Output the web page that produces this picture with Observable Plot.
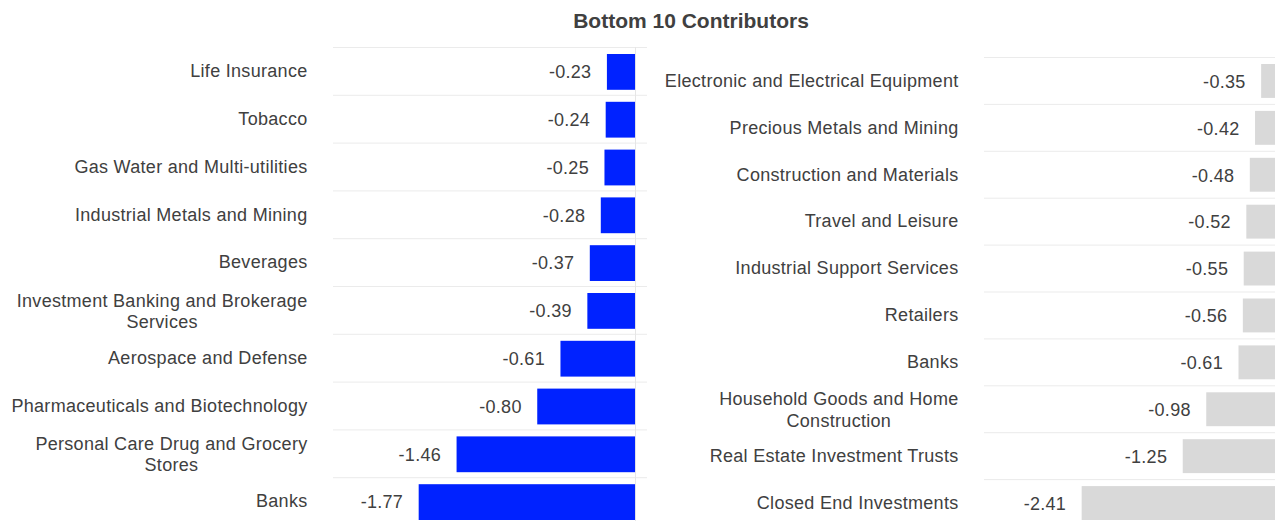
<!DOCTYPE html>
<html>
<head>
<meta charset="utf-8">
<script src="https://cdn.jsdelivr.net/npm/d3@7"></script>
<script src="https://cdn.jsdelivr.net/npm/@observablehq/plot@0.6"></script>
<style>
  html, body { margin: 0; padding: 0; background: #fff; overflow: hidden; width: 1275px; height: 521px; }
  #wrap { position: relative; width: 1275px; height: 521px; overflow: hidden; font-family: "Liberation Sans", Arial, sans-serif; }
  #title { position: absolute; top: 9px; left: 491px; width: 400px; text-align: center; font-weight: bold; font-size: 21px; color: #404040; }
  .panel { position: absolute; top: 0; width: 650px; height: 530px; }
  .panel svg { max-width: none !important; }
</style>
</head>
<body>
<div id="wrap">
  <div id="title">Bottom 10 Contributors</div>
  <div id="left" class="panel" style="left:0px"></div>
  <div id="right" class="panel" style="left:650px"></div>
</div>
<script>
const leftCategories = [
  "Life Insurance",
  "Tobacco",
  "Gas Water and Multi-utilities",
  "Industrial Metals and Mining",
  "Beverages",
  "Investment Banking and Brokerage\nServices",
  "Aerospace and Defense",
  "Pharmaceuticals and Biotechnology",
  "Personal Care Drug and Grocery\nStores",
  "Banks"
];
const leftValues = [-0.23, -0.24, -0.25, -0.28, -0.37, -0.39, -0.61, -0.80, -1.46, -1.77];

const rightCategories = [
  "Electronic and Electrical Equipment",
  "Precious Metals and Mining",
  "Construction and Materials",
  "Travel and Leisure",
  "Industrial Support Services",
  "Retailers",
  "Banks",
  "Household Goods and Home\nConstruction",
  "Real Estate Investment Trusts",
  "Closed End Investments"
];
const rightValues = [-0.35, -0.42, -0.48, -0.52, -0.55, -0.56, -0.61, -0.98, -1.25, -2.41];

const FONT = "Liberation Sans, Arial, sans-serif";
const FS = 18;
const LS = 0.3;
const TEXT = "#404040";

const ctx = document.createElement("canvas").getContext("2d");
ctx.font = `${FS}px "Liberation Sans", Arial, sans-serif`;
const textWidth = s => ctx.measureText(s).width + s.length * LS;

function panel({cats, vals, color, width, marginLeft, marginRight, marginTop, height, marginBottom, xDomain, insetTop, insetBottom, labelGap}) {
  const data = cats.map((c, i) => ({cat: c, value: vals[i], i, label: vals[i].toFixed(2)}));
  const single = data.filter(d => !d.cat.includes("\n"));
  const multi = data.filter(d => d.cat.includes("\n"));
  const marks = [
    Plot.ruleY(d3.range(cats.length + 1).map(i => i - 0.5), {stroke: "#ebebeb", strokeWidth: 1}),
    Plot.ruleX([0], {stroke: "#e6e6e6", strokeWidth: 1}),
    Plot.rectX(data, {x1: 0, x2: "value", y1: d => d.i - 0.5, y2: d => d.i + 0.5, insetTop, insetBottom, fill: color}),
    Plot.text(data, {x: "value", y: "i", text: "label", textAnchor: "end", dx: -16, dy: 1, fill: TEXT, fontSize: FS}),
    Plot.text(single, {y: "i", text: "cat", frameAnchor: "left", textAnchor: "end", dx: -labelGap, fill: TEXT, fontSize: FS})
  ];
  for (const d of multi) {
    const w = d3.max(d.cat.split("\n"), textWidth);
    marks.push(Plot.text([d], {y: "i", text: "cat", frameAnchor: "left", textAnchor: "middle", dx: -labelGap - w / 2, lineHeight: 1.17, fill: TEXT, fontSize: FS}));
  }
  return Plot.plot({
    width, height, marginLeft, marginRight, marginTop, marginBottom,
    style: {fontFamily: FONT, fontSize: FS + "px", letterSpacing: LS + "px", background: "transparent", overflow: "visible", maxWidth: "none"},
    x: {domain: xDomain, axis: null},
    y: {type: "linear", domain: [-0.5, cats.length - 0.5], range: [marginTop, height - marginBottom], axis: null},
    marks
  });
}

document.getElementById("left").appendChild(panel({
  cats: leftCategories, vals: leftValues, color: "#0022ff",
  width: 650, marginLeft: 333, marginRight: 3, marginTop: 47, height: 528, marginBottom: 3,
  xDomain: [-2.471, 0.098], insetTop: 7, insetBottom: 5, labelGap: 26
}));
document.getElementById("right").appendChild(panel({
  cats: rightCategories, vals: rightValues, color: "#d9d9d9",
  width: 650, marginLeft: 334, marginRight: 0, marginTop: 57, height: 529, marginBottom: 3,
  xDomain: [-3.531, 0.096], insetTop: 7, insetBottom: 6, labelGap: 26
}));
</script>
</body>
</html>
